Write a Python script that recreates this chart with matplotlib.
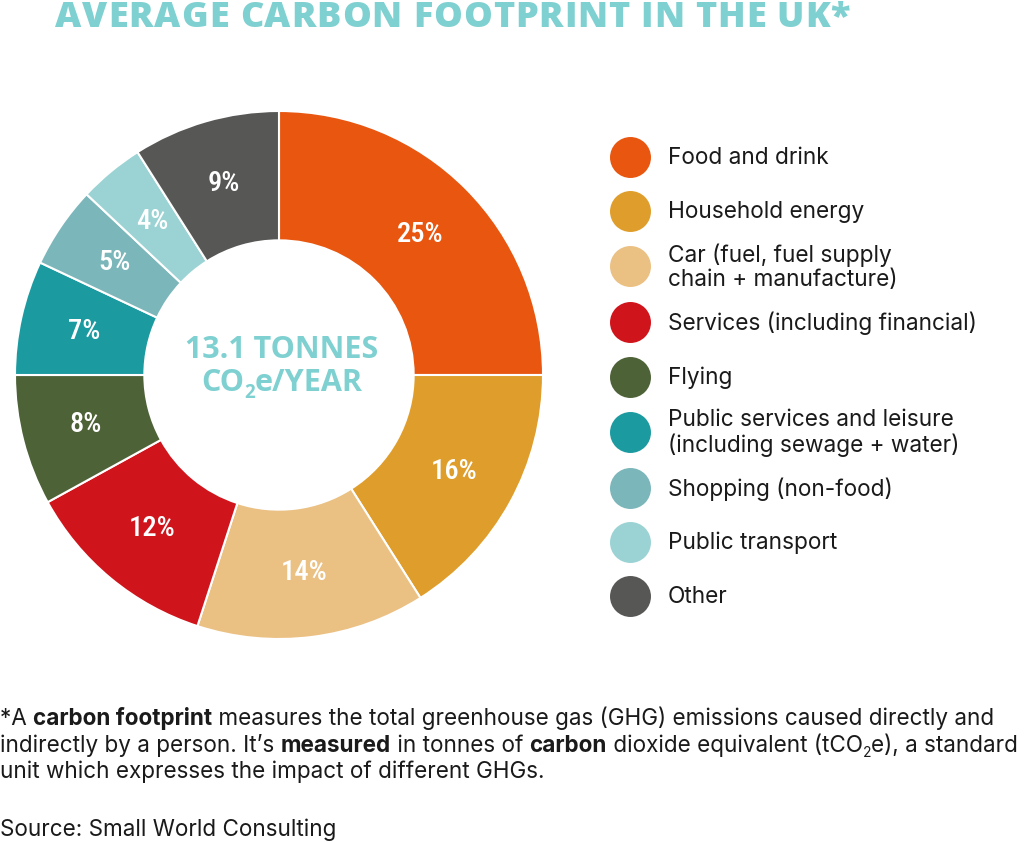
import matplotlib
matplotlib.use('Agg')
import matplotlib.pyplot as plt
from matplotlib import font_manager

# data
labels = ['Food and drink', 'Household energy', 'Car (fuel, fuel supply\nchain + manufacture)',
          'Services (including financial)', 'Flying',
          'Public services and leisure\n(including sewage + water)', 'Shopping (non-food)',
          'Public transport', 'Other']
shares = [25, 16, 14, 12, 8, 7, 5, 4, 9]
colors = ['#E8560F', '#DF9E2B', '#EBC083', '#D0141B', '#4E6238',
          '#1B9AA0', '#7BB6BA', '#9BD3D4', '#575756']
title = 'AVERAGE CARBON FOOTPRINT IN THE UK*'
centre_line1 = '13.1 TONNES'
source = 'Source: Small World Consulting'
teal = '#7FD0D1'
ink = '#1a1a1a'

fonts = font_manager.fontManager.ttflist


def pick(fams, weight=400):
    for fam in fams:
        if any(f.name == fam and f.weight >= weight for f in fonts):
            return fam
    return 'DejaVu Sans'


tall = pick(['Oswald', 'Roboto Condensed'], 500)
body = pick(['Inter', 'Karla', 'Roboto'], 700)
heavy = pick(['Open Sans', 'Roboto'], 700)

fig = plt.figure(figsize=(10.24, 8.42), dpi=100)
renderer = fig.canvas.get_renderer()

# donut, centre (279, 375) px, outer radius 264 px
ax = fig.add_axes([15 / 1024, 203 / 842, 528 / 1024, 528 / 842])
wedges, _, pcts = ax.pie(shares, colors=colors, startangle=90, counterclock=False,
                         radius=1, autopct=lambda p: f'{p:.0f}%', pctdistance=0.755,
                         wedgeprops=dict(width=0.49, edgecolor='white', linewidth=1.5))
for t in pcts:
    t.set_color('white')
    t.set_fontfamily(tall)
    t.set_fontweight(500)
    t.set_fontsize(20.5)
ax.set_xlim(-1, 1)
ax.set_ylim(-1, 1)
ax.axis('off')

# overlay in pixel coordinates
ov = fig.add_axes([0, 0, 1, 1], zorder=5)
ov.set_xlim(0, 1024)
ov.set_ylim(842, 0)
ov.axis('off')
ov.patch.set_alpha(0)


def width_of(t):
    return t.get_window_extent(renderer).width


def runs(x, y, parts, size, family, color=ink, dry=False):
    # parts: list of (text, weight, sub)
    made = []
    for text, weight, sub in parts:
        fs = size * 0.62 if sub else size
        yy = y + size * 0.3 if sub else y
        t = ov.text(x, yy, text, fontsize=fs, fontweight=weight, family=family,
                    color=color, va='baseline', ha='left')
        x += width_of(t)
        made.append(t)
    if dry:
        for t in made:
            t.remove()
    return x


# title, letter-spaced to span 55..850 px
chars = [ov.text(0, 27, ch, fontsize=26, fontweight='heavy', family=heavy,
                 color=teal, va='baseline', ha='left') for ch in title]
widths = [width_of(t) for t in chars]
gap = (795 - sum(widths)) / (len(chars) - 1)
tx = 55
for t, w in zip(chars, widths):
    t.set_x(tx)
    tx += w + gap

# centre text
ov.text(282, 358, centre_line1, fontsize=22, fontweight='bold', family=heavy,
        color=teal, ha='center', va='baseline')
parts2 = [('CO', 'bold', False), ('2', 'bold', True), ('e/YEAR', 'bold', False)]
w2 = runs(0, 391, parts2, 22, heavy, color=teal, dry=True)
runs(282 - w2 / 2, 391, parts2, 22, heavy, color=teal)

# legend
rows_y = [157, 211, 266, 322, 377, 432, 488, 542, 596]
for lab, col, yy in zip(labels, colors, rows_y):
    ov.scatter([630], [yy], s=870, color=col, linewidths=0)
    ov.text(668, yy + 1, lab, fontsize=16.3, family=body, color=ink,
            va='center', ha='left', linespacing=1.1)

# footnote
fs = 16.2
runs(0, 725, [('*A ', 'normal', False), ('carbon footprint', 'bold', False),
              (' measures the total greenhouse gas (GHG) emissions caused directly and', 'normal', False)],
     fs, body)
runs(0, 752, [('indirectly by a person. It\u2019s ', 'normal', False), ('measured', 'bold', False),
              (' in tonnes of ', 'normal', False), ('carbon', 'bold', False),
              (' dioxide equivalent (tCO', 'normal', False), ('2', 'normal', True),
              ('e), a standard', 'normal', False)], fs, body)
runs(0, 778, [('unit which expresses the impact of different GHGs.', 'normal', False)], fs, body)
runs(0, 836, [(source, 'normal', False)], fs, body)

fig.savefig('out.png', dpi=100)
